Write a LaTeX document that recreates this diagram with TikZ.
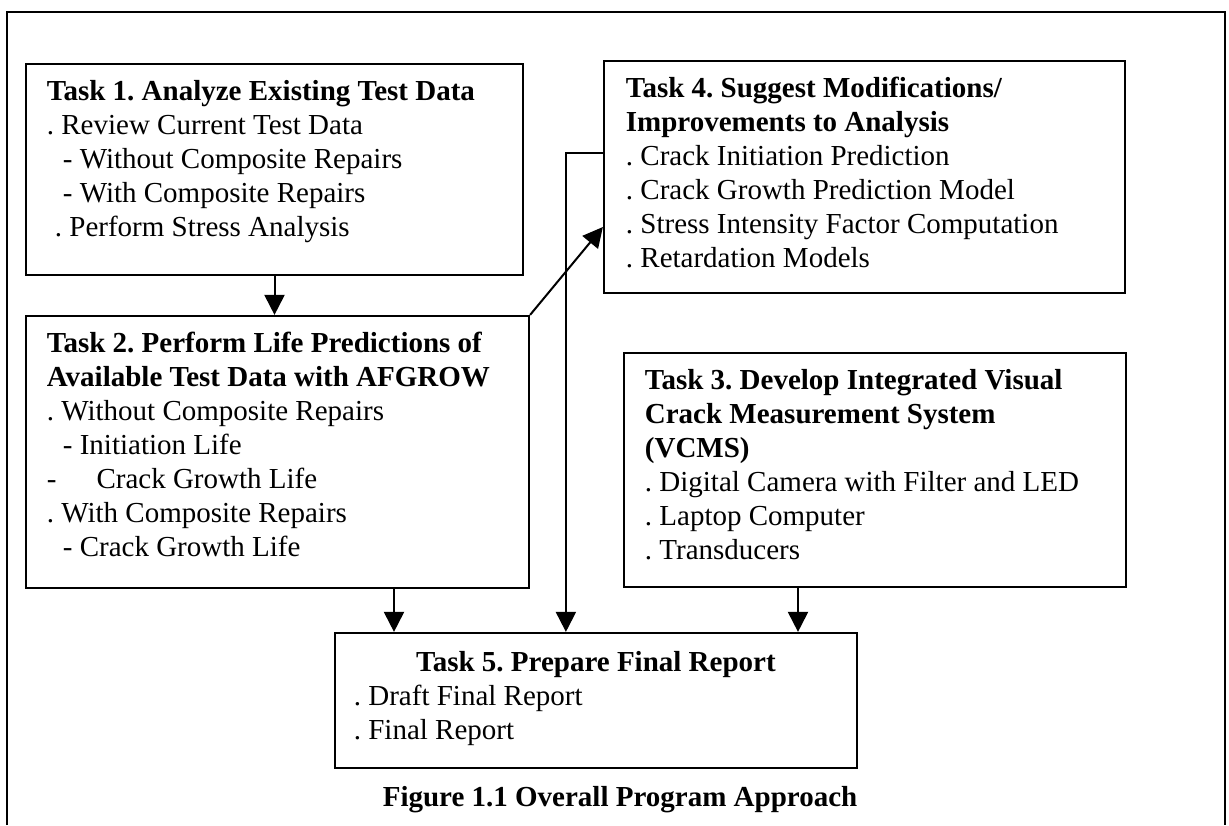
\documentclass[tikz,border=0pt]{standalone}
\usepackage{fontspec}
\setmainfont{Liberation Serif}
\usetikzlibrary{positioning}
\usetikzlibrary{arrows.meta}
\tikzset{>={Triangle[width=20pt,length=20pt]}}
\frenchspacing

\begin{document}
\begin{tikzpicture}[x=1pt, y=-1pt, line width=2pt, taskbox/.style={rectangle, draw=black, line width=2.2pt, inner sep=0pt}, tasktext/.style={align=left, inner sep=0pt, anchor=north west, font=\fontsize{29}{34}\selectfont}, captiontext/.style={inner sep=0pt, font=\bfseries\fontsize{29}{34}\selectfont}]
    \useasboundingbox (0,0) rectangle (1229,825);

    %Frame
    \draw[line width=1.8pt] (7,825) -- (7,12) -- (1225,12) -- (1225,825);

    %Nodes
    \node[taskbox, minimum width=497pt, minimum height=211pt](task1) at (274.5,169.5){};
    \node[taskbox, minimum width=503pt, minimum height=272pt](task2) at (277.5,452){};
    \node[taskbox, minimum width=521pt, minimum height=232pt](task4) at (864.5,177){};
    \node[taskbox, minimum width=502pt, minimum height=234pt](task3) at (875,470){};
    \node[taskbox, minimum width=522pt, minimum height=135pt](task5) at (596,700.5){};

    %Texts
    \node[tasktext](task1text) at ([shift={(21,16)}]task1.north west){\textbf{Task 1. Analyze Existing Test Data}\\
      . Review Current Test Data\\
      \hspace*{16pt}- Without Composite Repairs\\
      \hspace*{16pt}- With Composite Repairs\\
      \hspace*{8pt}. Perform Stress Analysis};
    \node[tasktext](task2text) at ([shift={(21,16)}]task2.north west){\textbf{Task 2. Perform Life Predictions of}\\
      \textbf{Available Test Data with AFGROW}\\
      . Without Composite Repairs\\
      \hspace*{16pt}- Initiation Life\\
      -\hspace*{40pt}Crack Growth Life\\
      . With Composite Repairs\\
      \hspace*{16pt}- Crack Growth Life};
    \node[tasktext](task4text) at ([shift={(22,16)}]task4.north west){\textbf{Task 4. Suggest Modifications/}\\
      \textbf{Improvements to Analysis}\\
      . Crack Initiation Prediction\\
      . Crack Growth Prediction Model\\
      . Stress Intensity Factor Computation\\
      . Retardation Models};
    \node[tasktext](task3text) at ([shift={(21,16)}]task3.north west){\textbf{Task 3. Develop Integrated Visual}\\
      \textbf{Crack Measurement System}\\
      \textbf{(VCMS)}\\
      . Digital Camera with Filter and LED\\
      . Laptop Computer\\
      . Transducers};
    \node[tasktext](task5text) at ([shift={(19,18)}]task5.north west){\makebox[484pt]{\textbf{Task 5. Prepare Final Report}}\\
      . Draft Final Report\\
      . Final Report};
    \node[captiontext](caption) at (620,800){Figure 1.1 Overall Program Approach};

    %Lines
    \draw[->] (task1.south) -- (task1.south |- task2.north);
    \draw[->] (task2.north east) -- ([yshift=-50pt]task4.west);
    \draw[->] ([yshift=24pt]task4.west) -| ([xshift=232pt]task5.north west);
    \draw[->] ([xshift=116.5pt]task2.south) -- ([xshift=116.5pt]task2.south |- task5.north);
    \draw[->] ([xshift=-77pt]task3.south) -- ([xshift=-77pt]task3.south |- task5.north);

\end{tikzpicture}
\end{document}
